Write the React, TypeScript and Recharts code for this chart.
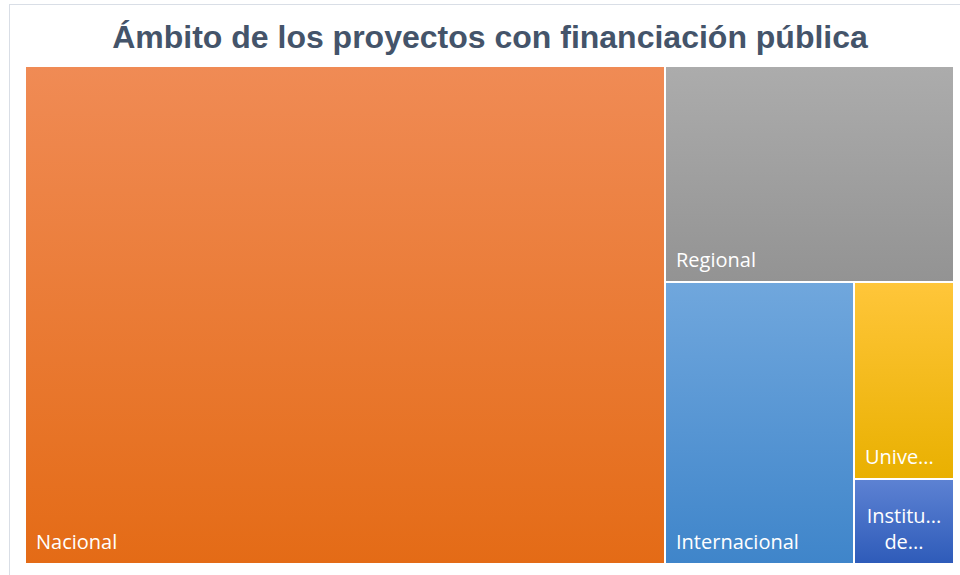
import { Treemap } from 'recharts';

const TITLE = 'Ámbito de los proyectos con financiación pública';

const CATEGORIES = ['Nacional', 'Regional', 'Internacional', 'Universidades', 'Institutos de investigación'];
const VALUES = [68.9, 13.5, 11.5, 4.25, 1.85];
// labels as Excel shows them (truncated in the small cells)
const LABELS = [['Nacional'], ['Regional'], ['Internacional'], ['Unive...'], ['Institu...', 'de...']];
const GRADIENTS = [
  ['#f08b55', '#e46b16'],
  ['#acacac', '#939393'],
  ['#70a7dd', '#3f85ca'],
  ['#ffc63a', '#e9b000'],
  ['#5d82d3', '#2e5bb9'],
];

const data = CATEGORIES.map((name, i) => ({ name, size: VALUES[i] }));

const Cell = (props: any) => {
  const { x, y, width, height, depth, index } = props;
  if (depth !== 1) return null;
  const [top, bottom] = GRADIENTS[index];
  const lines = LABELS[index];
  const id = `cell-grad-${index}`;
  const multi = lines.length > 1;
  return (
    <g>
      <defs>
        <linearGradient id={id} x1='0' y1='0' x2='0' y2='1'>
          <stop offset='0%' stopColor={top} />
          <stop offset='100%' stopColor={bottom} />
        </linearGradient>
      </defs>
      <rect x={x} y={y} width={width} height={height} fill={`url(#${id})`} stroke='#fff' strokeWidth={2} />
      {lines.map((t, li) => (
        <text
          key={li}
          x={multi ? x + width / 2 : x + 11}
          y={y + height - 15 - (lines.length - 1 - li) * 26}
          textAnchor={multi ? 'middle' : 'start'}
          fill='#fff'
          fontSize={20}
          fontFamily='"Open Sans", sans-serif'
        >
          {t}
        </text>
      ))}
    </g>
  );
};

export default function App() {
  return (
    <div style={{ position: 'absolute', left: 0, top: 0, width: 960, height: 575, background: '#fff', overflow: 'hidden' }}>
      <div
        style={{
          position: 'absolute', left: 9, top: 4, width: 960, height: 600,
          border: '1px solid #d9dee6', boxSizing: 'border-box',
        }}
      />
      <div
        style={{
          position: 'absolute', left: 0, top: 17, width: 980, textAlign: 'center',
          fontFamily: '"Liberation Sans", Arial, sans-serif', fontWeight: 'bold',
          fontSize: 32, color: '#44546a', lineHeight: '40px', whiteSpace: 'nowrap',
        }}
      >
        {TITLE}
      </div>
      <div style={{ position: 'absolute', left: 25, top: 66 }}>
        <Treemap
          width={929}
          height={498}
          data={data}
          dataKey='size'
          nameKey='name'
          aspectRatio={1}
          isAnimationActive={false}
          content={<Cell />}
        />
      </div>
    </div>
  );
}
